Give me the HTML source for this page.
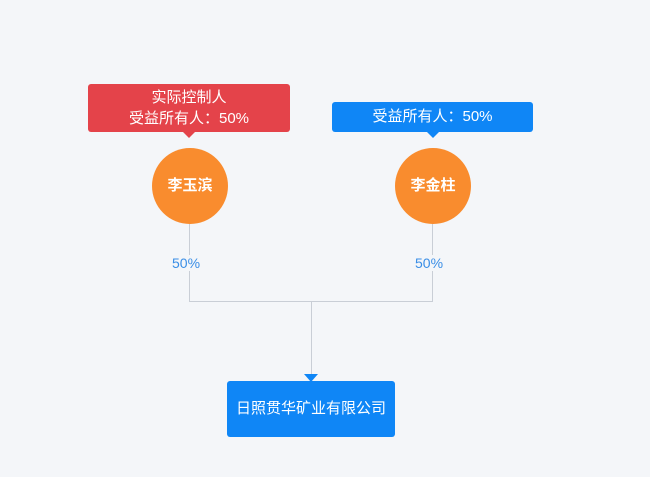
<!DOCTYPE html>
<html><head><meta charset="utf-8"><style>
body{margin:0;width:650px;height:477px;background:#f4f6f9;position:relative;overflow:hidden;font-family:"Liberation Sans","Noto Sans CJK SC",sans-serif}
.a{position:absolute}
.box{position:absolute;color:#fff;text-align:center;border-radius:3px;font-size:15px}
.c{position:absolute;width:76px;height:76px;border-radius:50%;background:#f98c2e;color:#fff;font-size:15px;font-weight:bold;text-align:center;line-height:76px}
.l{position:absolute;background:#c9ced6}
.p{position:absolute;color:#3a8ee6;font-size:14px}
</style></head><body>
<div class="box" style="left:88px;top:84px;width:202px;height:48px;background:#e4434a;line-height:21px;padding-top:3px;box-sizing:border-box">实际控制人<br>受益所有人：50%</div>
<div class="a" style="left:183px;top:132px;border-left:6px solid transparent;border-right:6px solid transparent;border-top:6px solid #e4434a"></div>
<div class="box" style="left:332px;top:102px;width:201px;height:30px;background:#0f86f6;line-height:30px">受益所有人：50%</div>
<div class="a" style="left:427px;top:132px;border-left:6px solid transparent;border-right:6px solid transparent;border-top:6px solid #0f86f6"></div>
<div class="c" style="left:152px;top:148px">李玉滨</div>
<div class="c" style="left:395px;top:148px">李金柱</div>
<div class="l" style="left:189px;top:224px;width:1px;height:78px"></div>
<div class="l" style="left:432px;top:224px;width:1px;height:78px"></div>
<div class="l" style="left:189px;top:301px;width:244px;height:1px"></div>
<div class="l" style="left:311px;top:301px;width:1px;height:75px"></div>
<div class="p" style="left:172px;top:255px;background:#f4f6f9">50%</div>
<div class="p" style="left:415px;top:255px;background:#f4f6f9">50%</div>
<div class="a" style="left:304px;top:374px;border-left:7px solid transparent;border-right:7px solid transparent;border-top:8px solid #0f86f6"></div>
<div class="box" style="left:227px;top:381px;width:168px;height:56px;background:#0f86f6;line-height:56px;font-size:15px">日照贯华矿业有限公司</div>
</body></html>
